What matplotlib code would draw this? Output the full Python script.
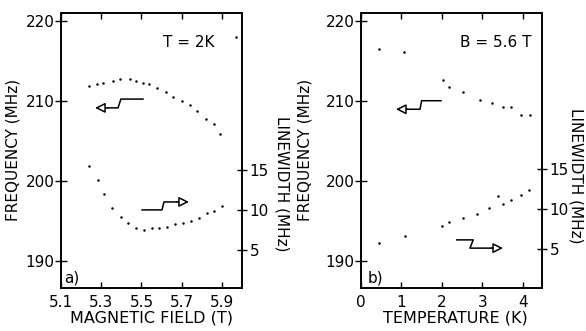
import matplotlib
matplotlib.use("Agg")
import matplotlib.pyplot as plt

plt.rcParams['font.family'] = ['DejaVu Sans']

# ---- data panel a (T = 2K) ----
field_freq = [5.241, 5.278, 5.310, 5.357, 5.394, 5.443, 5.473, 5.509, 5.539,
              5.579, 5.622, 5.659, 5.700, 5.742, 5.778, 5.821, 5.861, 5.891]
freq_a = [211.9, 212.1, 212.2, 212.5, 212.7, 212.7, 212.5, 212.3, 212.1,
          211.6, 211.1, 210.5, 210.0, 209.5, 208.7, 207.75, 207.1, 205.9]
field_lw = [5.241, 5.282, 5.315, 5.355, 5.398, 5.435, 5.473, 5.513, 5.551,
            5.589, 5.626, 5.665, 5.705, 5.745, 5.785, 5.825, 5.863, 5.900]
lw_a = [15.5, 13.7, 12.0, 10.25, 9.16, 8.4, 7.8, 7.5, 7.75,
        7.8, 7.9, 8.2, 8.4, 8.65, 9.0, 9.6, 9.9, 10.5]
extra_field = [5.97]
extra_freq = [218.0]

# ---- data panel b (B = 5.6 T) ----
temp_freq = [0.44, 1.07, 2.02, 2.18, 2.53, 2.93, 3.23, 3.50, 3.70, 3.95, 4.17]
freq_b = [216.5, 216.1, 212.6, 211.7, 211.1, 210.1, 209.75, 209.2, 209.2, 208.25, 208.25]
temp_lw = [0.44, 1.08, 2.01, 2.18, 2.53, 2.87, 3.15, 3.38, 3.51, 3.70, 3.94, 4.15]
lw_b = [5.7, 6.6, 7.9, 8.4, 8.9, 9.4, 10.1, 11.6, 10.6, 11.1, 11.8, 12.4]

freq_ticks = [190, 200, 210, 220]
lw_ticks = [5, 10, 15]
field_ticks = [5.1, 5.3, 5.5, 5.7, 5.9]
temp_ticks = [0, 1, 2, 3, 4]

W, H = 586, 331
fig = plt.figure(figsize=(W / 100, H / 100), dpi=100)

def px_axes(l, r, t, b):
    return [l / W, 1 - b / H, (r - l) / W, (b - t) / H]

FS = 11

def style(ax, ax2, xticks, xlim, ylim, ylim2, xfmt):
    ax.set_xlim(*xlim)
    ax.set_ylim(*ylim)
    ax2.set_ylim(*ylim2)
    ax.set_xticks(xticks)
    ax.set_xticklabels([xfmt(v) for v in xticks], fontsize=FS)
    ax.set_yticks(freq_ticks)
    ax.set_yticklabels([str(v) for v in freq_ticks], fontsize=FS)
    ax2.set_yticks(lw_ticks)
    ax2.set_yticklabels([str(v) for v in lw_ticks], fontsize=FS)
    ax.tick_params(axis='x', which='both', direction='in', top=True, bottom=True,
                   length=4, width=1.0, pad=5)
    ax.tick_params(axis='y', which='both', direction='inout', left=True, right=False,
                   length=9, width=1.0, pad=0)
    ax2.tick_params(axis='y', direction='inout', length=7, width=1.0, pad=2)
    for a in (ax, ax2):
        for s in a.spines.values():
            s.set_linewidth(1.2)

def polyarrow(ax, pts, tip):
    xs = [p[0] for p in pts]
    ys = [p[1] for p in pts]
    ax.plot(xs, ys, color='black', lw=1.1, transform=ax.transAxes, clip_on=False)
    ax.annotate('', xy=tip, xytext=pts[-1], xycoords='axes fraction',
                textcoords='axes fraction',
                arrowprops=dict(arrowstyle='-|>,head_length=0.6,head_width=0.3',
                                fc='white', ec='black', lw=1.1,
                                shrinkA=0, shrinkB=0))

# ---- panel a ----
axa = fig.add_axes(px_axes(61, 242, 13, 288))
axa2 = axa.twinx()
axa.plot(field_freq, freq_a, 'o', color='black', ms=1.8, mew=0)
axa.plot(extra_field, extra_freq, 'o', color='black', ms=1.8, mew=0)
axa2.plot(field_lw, lw_a, 'o', color='black', ms=1.8, mew=0)
style(axa, axa2, field_ticks, (5.1, 6.0), (186.6, 221.0), (0.25, 34.6),
      lambda v: f"{v:.1f}")
axa.text(0.707, 0.891, "T = 2K", transform=axa.transAxes, ha='center', va='center',
         fontsize=FS)
axa.text(0.02, 0.01, "a)", transform=axa.transAxes, ha='left', va='bottom', fontsize=FS)
polyarrow(axa, [(0.453, 0.687), (0.331, 0.687), (0.315, 0.655), (0.26, 0.655)],
          (0.188, 0.655))
polyarrow(axa, [(0.448, 0.284), (0.558, 0.284), (0.569, 0.313), (0.64, 0.313)],
          (0.707, 0.313))

# ---- panel b ----
axb = fig.add_axes(px_axes(361, 542, 13, 288))
axb2 = axb.twinx()
axb.plot(temp_freq, freq_b, 'o', color='black', ms=1.8, mew=0)
axb2.plot(temp_lw, lw_b, 'o', color='black', ms=1.8, mew=0)
style(axb, axb2, temp_ticks, (0, 4.47), (186.6, 221.0), (0.125, 34.5),
      lambda v: f"{v:d}")
axb.text(0.746, 0.891, "B = 5.6 T", transform=axb.transAxes, ha='center', va='center',
         fontsize=FS)
axb.text(0.035, 0.01, "b)", transform=axb.transAxes, ha='left', va='bottom', fontsize=FS)
polyarrow(axb, [(0.442, 0.681), (0.335, 0.681), (0.326, 0.65), (0.26, 0.65)],
          (0.193, 0.65))
polyarrow(axb, [(0.529, 0.175), (0.620, 0.175), (0.602, 0.145), (0.72, 0.145)],
          (0.785, 0.145))

# ---- axis titles ----
fig.text(13 / W, 1 - 150 / H, "FREQUENCY (MHz)", rotation=90, ha='center', va='center',
         fontsize=FS)
fig.text(305 / W, 1 - 150 / H, "FREQUENCY (MHz)", rotation=90, ha='center', va='center',
         fontsize=FS)
fig.text(282 / W, 1 - 184 / H, "LINEWIDTH (MHz)", rotation=-90, ha='center', va='center',
         fontsize=FS)
fig.text(576 / W, 1 - 176 / H, "LINEWIDTH (MHz)", rotation=-90, ha='center', va='center',
         fontsize=FS)
fig.text(152 / W, 1 - 318 / H, "MAGNETIC FIELD (T)", ha='center', va='center',
         fontsize=11.5)
fig.text(455 / W, 1 - 318 / H, "TEMPERATURE (K)", ha='center', va='center',
         fontsize=11.5)

fig.savefig("out.png", dpi=100)
